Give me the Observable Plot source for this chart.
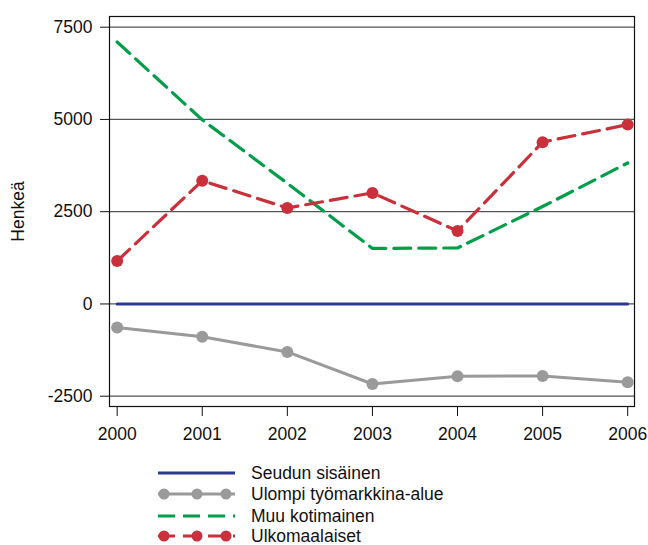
<!DOCTYPE html>
<html>
<head>
<meta charset="utf-8">
<script src="https://cdn.jsdelivr.net/npm/d3@7"></script>
<script src="https://cdn.jsdelivr.net/npm/@observablehq/plot@0.6"></script>
<style>
  html, body { margin: 0; padding: 0; background: #fff; }
  body { width: 648px; height: 545px; overflow: hidden; font-family: "Liberation Sans", Arial, Helvetica, sans-serif; }
  svg { display: block; }
  #legend text { font-family: "Liberation Sans", Arial, Helvetica, sans-serif; font-size: 17.5px; fill: #111; }
</style>
</head>
<body>
<div id="chart"></div>
<div id="legend"></div>
<script>
const years = [2000, 2001, 2002, 2003, 2004, 2005, 2006];
const seudunSisainen = [0, 0, 0, 0, 0, 0, 0];
const ulompiTyomarkkina = [-640, -890, -1300, -2170, -1960, -1950, -2120];
const muuKotimainen = [7100, 4990, 3270, 1505, 1518, 2640, 3820];
const ulkomaalaiset = [1165, 3340, 2600, 3010, 1975, 4385, 4860];
const yTicks = [-2500, 0, 2500, 5000, 7500];
const seriesNames = ["Seudun sisäinen", "Ulompi työmarkkina-alue", "Muu kotimainen", "Ulkomaalaiset"];
const colors = {blue: "#2b3990", gray: "#9a9a9a", green: "#009e49", red: "#c9303c"};

const toRows = (vals) => years.map((y, i) => ({year: y, value: vals[i]}));
const sRows = toRows(seudunSisainen);
const uRows = toRows(ulompiTyomarkkina);
const mRows = toRows(muuKotimainen);
const kRows = toRows(ulkomaalaiset);

const chart = Plot.plot({
  width: 648,
  height: 450,
  marginLeft: 109,
  marginRight: 14,
  marginTop: 16,
  marginBottom: 44,
  style: {fontFamily: '"Liberation Sans", Arial, Helvetica, sans-serif', fontSize: "17.5px", color: "#111", background: "#fff"},
  x: {type: "linear", domain: [1999.91, 2006.08]},
  y: {domain: [-2779, 7790]},
  marks: [
    Plot.ruleY(yTicks, {stroke: "#555", strokeWidth: 1.3}),
    Plot.frame({stroke: "#111", strokeWidth: 1.2}),
    Plot.axisY({ticks: yTicks, tickSize: 9, tickPadding: 8, tickFormat: d => String(d),
      label: "Henkeä", labelAnchor: "center", labelArrow: "none", labelOffset: 98, fontSize: 17.5}),
    Plot.axisX({ticks: years, tickSize: 10, tickPadding: 11, tickFormat: d => String(d), label: null, fontSize: 17.5}),
    Plot.line(sRows, {x: "year", y: "value", stroke: colors.blue, strokeWidth: 3}),
    Plot.line(mRows, {x: "year", y: "value", stroke: colors.green, strokeWidth: 3.2, strokeDasharray: "17,8"}),
    Plot.line(kRows, {x: "year", y: "value", stroke: colors.red, strokeWidth: 3.2, strokeDasharray: "17,8"}),
    Plot.dot(kRows, {x: "year", y: "value", fill: colors.red, r: 6}),
    Plot.line(uRows, {x: "year", y: "value", stroke: colors.gray, strokeWidth: 3}),
    Plot.dot(uRows, {x: "year", y: "value", fill: colors.gray, r: 6})
  ]
});
document.getElementById("chart").appendChild(chart);

// Legend below the chart
const legendStyles = [
  {stroke: colors.blue, dash: null, dots: false},
  {stroke: colors.gray, dash: null, dots: true},
  {stroke: colors.green, dash: "17,8", dots: false},
  {stroke: colors.red, dash: "17,8", dots: true}
];
const legendRowY = [23, 44, 66, 86];
const ns = "http://www.w3.org/2000/svg";
const lsvg = document.createElementNS(ns, "svg");
lsvg.setAttribute("width", 648);
lsvg.setAttribute("height", 95);
seriesNames.forEach((name, i) => {
  const st = legendStyles[i];
  const y = legendRowY[i];
  const line = document.createElementNS(ns, "line");
  line.setAttribute("x1", 158); line.setAttribute("x2", 235);
  line.setAttribute("y1", y); line.setAttribute("y2", y);
  line.setAttribute("stroke", st.stroke);
  line.setAttribute("stroke-width", 3);
  if (st.dash) line.setAttribute("stroke-dasharray", st.dash);
  lsvg.appendChild(line);
  if (st.dots) {
    [164, 197, 226].forEach(cx => {
      const c = document.createElementNS(ns, "circle");
      c.setAttribute("cx", cx); c.setAttribute("cy", y); c.setAttribute("r", 5.5);
      c.setAttribute("fill", st.stroke);
      lsvg.appendChild(c);
    });
  }
  const t = document.createElementNS(ns, "text");
  t.setAttribute("x", 251); t.setAttribute("y", y);
  t.setAttribute("dy", "0.36em");
  t.textContent = name;
  lsvg.appendChild(t);
});
document.getElementById("legend").appendChild(lsvg);
</script>
</body>
</html>
